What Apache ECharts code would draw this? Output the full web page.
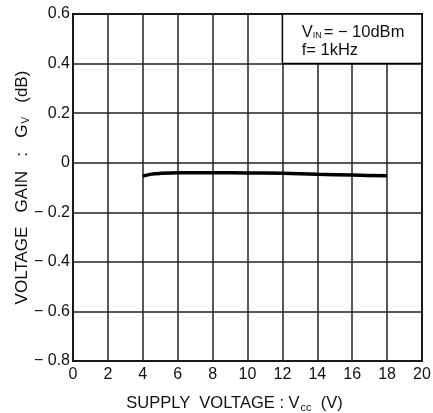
<!DOCTYPE html>
<html><head><meta charset="utf-8">
<script src="https://cdn.jsdelivr.net/npm/echarts@6/dist/echarts.min.js"></script>
<style>html,body{margin:0;padding:0;background:#fff}#c{width:433px;height:413px}</style>
</head><body><div id="c"></div>
<script>
var supplyVoltage = [4, 4.5, 5, 6, 8, 10, 12, 14, 16, 18];
var voltageGain = [-0.054, -0.046, -0.043, -0.040, -0.040, -0.041, -0.043, -0.047, -0.050, -0.053];
var xTicks = [0, 20, 2];
var yTicks = [-0.8, 0.6, 0.2];

var F = '"Liberation Sans", Arial, sans-serif';
var chart = echarts.init(document.getElementById('c'));
function fmt(v){ v = Math.round(v*10)/10; if (v === 0) return '0'; return v < 0 ? '− ' + Math.abs(v).toFixed(1) : v.toFixed(1); }
chart.setOption({
  animation: false,
  grid: {left: 73, top: 14, right: 11, bottom: 52, show: true, borderColor: '#000', borderWidth: 2, outerBoundsMode: 'none', containLabel: false},
  xAxis: {
    type: 'value', min: xTicks[0], max: xTicks[1], interval: xTicks[2],
    axisLine: {show: false}, axisTick: {show: false},
    axisLabel: {color: '#111', fontFamily: F, fontSize: 16, margin: 6},
    splitLine: {lineStyle: {color: '#222', width: 1.5}},
    name: '{a|SUPPLY  VOLTAGE : V}{s|cc}{a|  (V)}', nameLocation: 'middle', nameGap: 33, nameMoveOverlap: false,
    nameTextStyle: {padding: [0, 26, 0, 0], rich: {a: {fontFamily: F, fontSize: 16.5, color: '#111'}, s: {fontFamily: F, fontSize: 11, color: '#111', padding: [8,0,0,1]}}}
  },
  yAxis: {
    type: 'value', min: yTicks[0], max: yTicks[1], interval: yTicks[2],
    axisLine: {show: false}, axisTick: {show: false},
    axisLabel: {color: '#111', fontFamily: F, fontSize: 16, margin: 3, formatter: fmt},
    splitLine: {lineStyle: {color: '#222', width: 1.5}},
    name: '{a|VOLTAGE   GAIN   :   G}{s|V}{a|   (dB)}', nameLocation: 'middle', nameGap: 42, nameMoveOverlap: false,
    nameTextStyle: {rich: {a: {fontFamily: F, fontSize: 17, color: '#111'}, s: {fontFamily: F, fontSize: 10, color: '#111', padding: [8,0,0,1]}}}
  },
  series: [{
    type: 'line', data: supplyVoltage.map(function(x,i){return [x, voltageGain[i]];}),
    showSymbol: false, smooth: 0.3, lineStyle: {color: '#000', width: 3.5},
    markArea: {
      silent: true,
      itemStyle: {color: '#fff', borderColor: '#000', borderWidth: 1.5},
      label: {
        show: true, position: 'insideTopLeft', offset: [15, 5],
        formatter: '{a|V}{s|IN}{a|= − 10dBm}\n{a|f= 1kHz}',
        rich: {a: {fontFamily: F, fontSize: 16.5, color: '#111', lineHeight: 18}, s: {fontFamily: F, fontSize: 9, color: '#111', padding: [7,2,0,0]}}
      },
      data: [[{xAxis: 12, yAxis: 0.4}, {xAxis: 20, yAxis: 0.6}]]
    }
  }]
});
</script></body></html>
